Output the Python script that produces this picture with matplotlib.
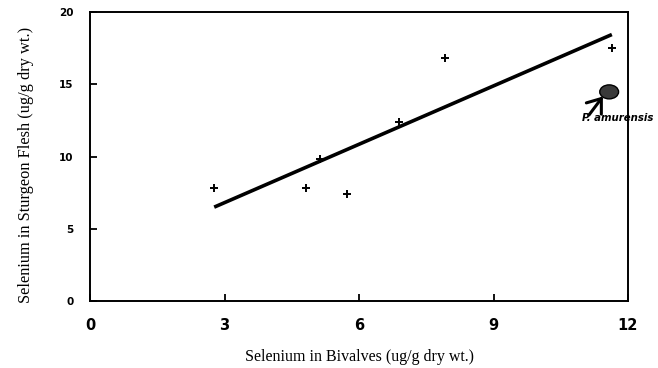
import matplotlib
matplotlib.use("Agg")
import matplotlib.pyplot as plt
from matplotlib.patches import Ellipse

# --- data ---
bivalve_se = [2.77, 4.81, 5.13, 5.74, 6.89, 7.92, 11.64]
sturgeon_se = [7.81, 7.81, 9.84, 7.43, 12.37, 16.81, 17.5]

# regression line endpoints
fit_x = [2.77, 11.64]
fit_y = [6.5, 18.45]

# P. amurensis point (highlighted)
amur_x = 11.58
amur_y = 14.48

x_ticks = [0, 3, 6, 9, 12]
y_ticks = [0, 5, 10, 15, 20]

fig = plt.figure(figsize=(6.58, 3.68), dpi=100)
ax = fig.add_axes([0.1368, 0.182, 0.8176, 0.785])

ax.plot(fit_x, fit_y, color="black", linewidth=2.6, solid_capstyle="butt")
ax.scatter(bivalve_se, sturgeon_se, marker="+", s=32, color="black", linewidths=1.4, zorder=3)

# highlighted point
ax.add_patch(Ellipse((amur_x, amur_y), 0.42, 0.97, facecolor="#3a3a3a",
                     edgecolor="black", linewidth=1.0, zorder=4))
ax.annotate("", xy=(amur_x - 0.14, amur_y - 0.32), xytext=(amur_x - 0.45, amur_y - 1.6),
            arrowprops=dict(arrowstyle="->,head_length=0.6,head_width=0.45", color="black",
                            lw=2.2, mutation_scale=15, shrinkA=0, shrinkB=0), zorder=5)
ax.text(amur_x + 0.2, amur_y - 1.78, "P. amurensis", fontsize=7.3, fontweight="heavy",
        fontstyle="italic", family="DejaVu Sans", ha="center", va="center",
        clip_on=False, zorder=6)

ax.set_xlim(0, 12)
ax.set_ylim(0, 20)
ax.set_xticks(x_ticks)
ax.set_yticks(y_ticks)
ax.set_xticklabels([str(v) for v in x_ticks], fontsize=10.5, fontweight="heavy", family="DejaVu Sans")
ax.set_yticklabels([str(v) for v in y_ticks], fontsize=7.5, fontweight="heavy", family="DejaVu Sans")
ax.tick_params(axis="both", direction="in", length=5, width=1.3)
ax.tick_params(axis="x", pad=12)
ax.tick_params(axis="y", pad=12)

for sp in ax.spines.values():
    sp.set_linewidth(1.4)

ax.set_xlabel("Selenium in Bivalves (ug/g dry wt.)", family="Liberation Serif", fontsize=11.5, labelpad=12)
ax.set_ylabel("Selenium in Sturgeon Flesh (ug/g dry wt.)", family="Liberation Serif", fontsize=11.8)
ax.yaxis.set_label_coords(-0.105, 0.47)

fig.savefig("out.png", dpi=100)
